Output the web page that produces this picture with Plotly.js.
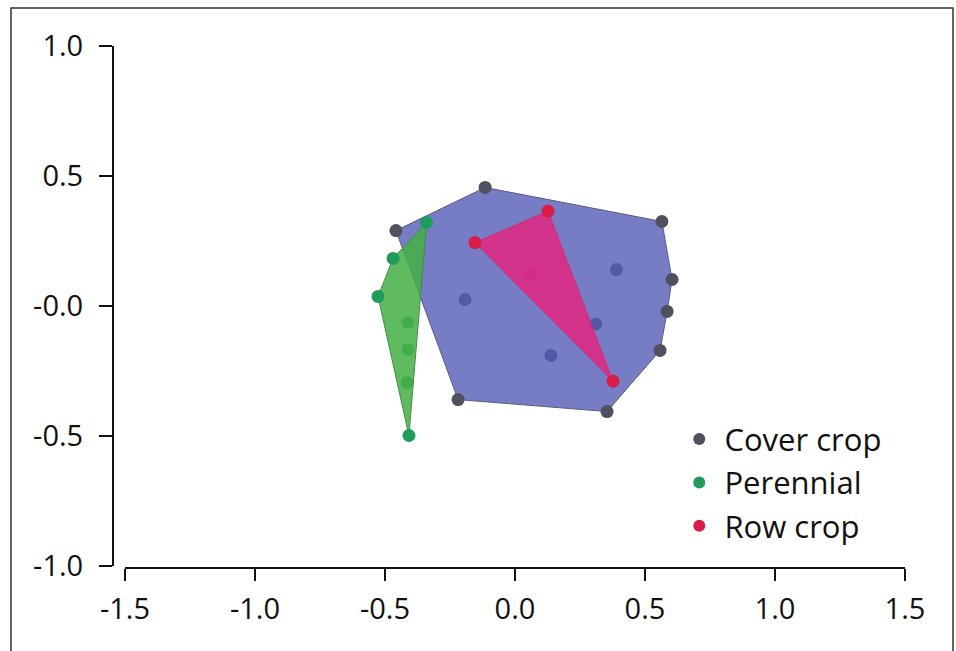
<!DOCTYPE html>
<html>
<head>
<meta charset="utf-8">
<script src="https://cdn.plot.ly/plotly-3.0.1.min.js"></script>
<style>html,body{margin:0;padding:0;background:#fff;}#chart{width:956px;height:651px;}</style>
</head>
<body>
<div id="chart"></div>
<script>
// ---- data ----
const groups = ["Cover crop", "Perennial", "Row crop"];

const coverX = [-0.115, 0.565, 0.604, 0.585, 0.558, 0.354, -0.219, -0.458, -0.192, 0.138, 0.310, 0.390];
const coverY = [0.456, 0.325, 0.102, -0.021, -0.171, -0.406, -0.360, 0.290, 0.025, -0.190, -0.070, 0.140];
const coverHull = [0, 1, 2, 3, 4, 5, 6, 7];

const perennialX = [-0.340, -0.469, -0.527, -0.408, -0.412, -0.412, -0.415];
const perennialY = [0.321, 0.183, 0.037, -0.498, -0.063, -0.167, -0.294];
const perennialHull = [0, 1, 2, 3];

const rowX = [0.127, -0.154, 0.377, 0.058];
const rowY = [0.365, 0.244, -0.289, 0.121];
const rowHull = [0, 1, 2];

const xTickVals = [-1.5, -1.0, -0.5, 0.0, 0.5, 1.0, 1.5];
const xTickText = ["-1.5", "-1.0", "-0.5", "0.0", "0.5", "1.0", "1.5"];
const yTickVals = [-1.0, -0.5, 0.0, 0.5, 1.0];
const yTickText = ["-1.0", "-0.5", "-0.0", "0.5", "1.0"];

// ---- styling ----
const pointColors = ["#50505f", "#1f9c5c", "#d91c48"];
const fillColors = ["rgba(84,92,182,0.80)", "rgba(70,176,70,0.86)", "rgba(226,40,130,0.87)"];
const edgeColors = ["#5a5a78", "#3f8f45", "#c8307a"];
const FONT = "Open Sans, Noto Sans, sans-serif";

const sets = [
  {x: coverX, y: coverY, hull: coverHull},
  {x: perennialX, y: perennialY, hull: perennialHull},
  {x: rowX, y: rowY, hull: rowHull}
];

const below = [], polys = [], tops = [];
sets.forEach((s, g) => {
  const inX = [], inY = [];
  s.x.forEach((v, i) => { if (s.hull.indexOf(i) < 0) { inX.push(v); inY.push(s.y[i]); } });
  below.push({x: inX, y: inY, type: "scatter", mode: "markers", showlegend: false, hoverinfo: "skip",
    marker: {color: pointColors[g], size: 13}});
  const hx = s.hull.map(i => s.x[i]); hx.push(s.x[s.hull[0]]);
  const hy = s.hull.map(i => s.y[i]); hy.push(s.y[s.hull[0]]);
  polys.push({x: hx, y: hy, type: "scatter", mode: "lines", fill: "toself", fillcolor: fillColors[g],
    line: {color: edgeColors[g], width: 1}, showlegend: false, hoverinfo: "skip"});
  tops.push({x: s.hull.map(i => s.x[i]), y: s.hull.map(i => s.y[i]), type: "scatter", mode: "markers",
    name: "\u2009" + groups[g], legendgroup: groups[g], marker: {color: pointColors[g], size: 13}});
});

const layout = {
  width: 956, height: 651,
  margin: {l: 113, r: 51, t: 46, b: 83},
  paper_bgcolor: "#ffffff", plot_bgcolor: "#ffffff",
  showlegend: true,
  xaxis: {range: [-1.5462, 1.5], showgrid: false, zeroline: false, showline: false,
    tickmode: "array", tickvals: xTickVals, ticktext: xTickText,
    ticks: "outside", ticklen: 12, tickwidth: 2, tickcolor: "#111",
    ticklabelstandoff: 3,
    tickfont: {family: FONT, size: 29, color: "#111"}},
  yaxis: {range: [-1.0077, 1.0], showgrid: false, zeroline: false, showline: false,
    tickmode: "array", tickvals: yTickVals, ticktext: yTickText,
    ticks: "outside", ticklen: 13, tickwidth: 2, tickcolor: "#111",
    ticklabelstandoff: 10,
    tickfont: {family: FONT, size: 29, color: "#111"}},
  legend: {x: 0.715, y: 0.298, xanchor: "left", yanchor: "top", bgcolor: "rgba(0,0,0,0)",
    font: {family: FONT, size: 31, color: "#111"}, itemsizing: "constant",
    traceorder: "grouped", tracegroupgap: 0},
  shapes: [
    {type: "line", xref: "paper", yref: "y", x0: 0, x1: 0, y0: -1, y1: 1, line: {color: "#111", width: 2}},
    {type: "line", xref: "x", yref: "paper", x0: -1.5, x1: 1.5, y0: 0, y1: 0, line: {color: "#111", width: 2}},
    {type: "rect", xref: "paper", yref: "paper", x0: -0.1288, x1: 1.0606, y0: -0.2, y1: 1.0728,
      line: {color: "#333", width: 1.5}, fillcolor: "rgba(0,0,0,0)"}
  ]
};

Plotly.newPlot("chart", below.concat(polys, tops), layout, {displayModeBar: false, staticPlot: true});
</script>
</body>
</html>
